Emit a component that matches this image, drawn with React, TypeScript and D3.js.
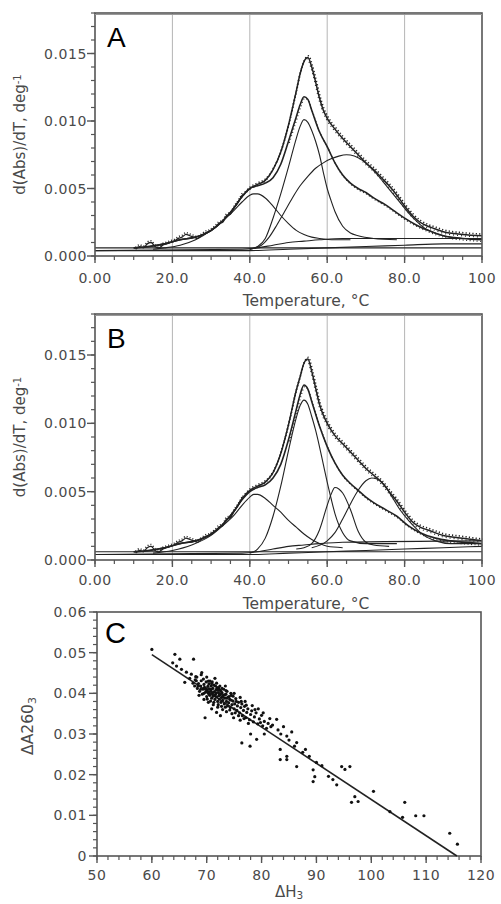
import React from 'react';
import * as d3 from 'd3';

type P = [number, number];

// ---------- shared axis data ----------
const tempTicks = [0, 20, 40, 60, 80, 100];
const tempTickLabels = ['0.00', '20.0', '40.0', '60.0', '80.0', '100'];
const dervTicks = [0, 0.005, 0.01, 0.015];
const dervTickLabels = ['0.000', '0.005', '0.010', '0.015'];
const gridTemps = [20, 40, 60, 80];

// ---------- panel A ----------
const aUpperFit: P[] = [[10,0.0006],[14,0.0007],[18,0.0009],[22,0.0012],[26,0.0014],[30,0.0019],[33,0.0026],[36,0.0036],[38,0.0044],[40,0.0050],[42,0.0053],[44,0.0056],[46,0.0064],[48,0.0077],[50,0.0097],[52,0.0122],[53,0.0135],[54,0.0144],[55,0.0147],[56,0.0140],[57,0.0129],[58,0.0117],[59,0.0108],[60,0.0102],[62,0.0094],[64,0.0087],[66,0.0081],[68,0.0075],[70,0.0069],[72,0.0064],[74,0.0058],[76,0.0052],[78,0.0045],[80,0.0037],[82,0.0030],[84,0.0025],[86,0.0022],[88,0.0020],[90,0.0018],[95,0.0016],[100,0.0015]];
const aUpperNoise: P[] = [[10.5,0.0005],[11.5,0.0007],[12.5,0.0006],[13.5,0.0009],[14.5,0.0010],[15.5,0.0007],[16.5,0.0006],[17.5,0.0008],[18.5,0.0009],[19.5,0.0010],[20.5,0.0011],[21.5,0.0013],[22.5,0.0014],[23.5,0.0016],[24.5,0.0015],[25.5,0.0014],[26.5,0.0013],[27.5,0.0015],[28.5,0.0017],[29.5,0.0018],[31,0.0021],[32,0.0024],[33,0.0025],[34,0.0030],[35,0.0031],[36,0.0036],[37,0.0040],[38,0.0045]];
const aMid: P[] = [[10,0.0006],[14,0.0007],[18,0.0009],[22,0.0012],[26,0.0014],[30,0.0019],[33,0.0026],[36,0.0036],[38,0.0044],[40,0.0050],[42,0.0052],[44,0.0054],[46,0.0058],[48,0.0068],[50,0.0085],[52,0.0103],[53,0.0112],[54,0.0118],[55,0.0116],[56,0.0108],[58,0.0092],[60,0.0081],[62,0.0069],[64,0.0060],[66,0.0054],[68,0.0050],[70,0.0047],[72,0.0043],[75,0.0038],[78,0.0032],[80,0.0028],[83,0.0023],[86,0.0019],[90,0.0015],[95,0.0013],[100,0.0012]];
const aComp1: P[] = [[15,0.0005],[18,0.0006],[22,0.0008],[26,0.0012],[30,0.0019],[33,0.0026],[36,0.0034],[38,0.0040],[40,0.0045],[41,0.0046],[42,0.0046],[44,0.0043],[46,0.0037],[48,0.0030],[50,0.0024],[52,0.0019],[54,0.0016],[56,0.0014],[58,0.0013],[62,0.0012],[66,0.0012]];
const aComp2: P[] = [[40,0.0005],[42,0.0007],[44,0.0013],[46,0.0028],[48,0.0046],[50,0.0066],[52,0.0087],[53,0.0096],[54,0.0101],[55,0.0099],[56,0.0093],[57,0.0085],[58,0.0075],[59,0.0062],[60,0.0050],[61,0.0041],[62,0.0033],[64,0.0022],[66,0.0017],[68,0.0015],[72,0.0013],[78,0.0012]];
const aComp3: P[] = [[40,0.0005],[43,0.0008],[45,0.0014],[47,0.0023],[49,0.0033],[51,0.0043],[53,0.0052],[55,0.0059],[57,0.0065],[59,0.0069],[61,0.0072],[63,0.0074],[65,0.0075],[67,0.0074],[69,0.0071],[71,0.0066],[73,0.0060],[75,0.0053],[77,0.0046],[79,0.0039],[81,0.0032],[83,0.0026],[85,0.0021],[87,0.0018],[90,0.0015],[95,0.0013],[100,0.0013]];
const aBase1: P[] = [[0,0.0006],[100,0.0006]];
const aBase2: P[] = [[0,0.0004],[40,0.0004],[50,0.0005],[60,0.0006],[70,0.0007],[80,0.0008],[90,0.0009],[100,0.0009]];
const aBase3: P[] = [[0,0.0004],[38,0.0005],[42,0.0006],[46,0.0008],[50,0.0010],[54,0.0011],[58,0.0012],[64,0.0013],[100,0.0013]];

// ---------- panel B ----------
const bUpperFit: P[] = [[10,0.0006],[14,0.0007],[18,0.0009],[22,0.0012],[26,0.0014],[30,0.0019],[33,0.0026],[36,0.0036],[38,0.0045],[40,0.0051],[42,0.0054],[44,0.0057],[46,0.0064],[48,0.0078],[50,0.0099],[52,0.0124],[53,0.0134],[54,0.0144],[55,0.0147],[56,0.0138],[57,0.0126],[58,0.0114],[59,0.0106],[60,0.0100],[62,0.0091],[64,0.0085],[66,0.0079],[68,0.0073],[70,0.0067],[72,0.0062],[74,0.0057],[76,0.0050],[78,0.0043],[80,0.0035],[82,0.0028],[84,0.0024],[86,0.0022],[90,0.0018],[95,0.0016],[100,0.0014]];
const bUpperNoise: P[] = [[10.5,0.0005],[11.5,0.0007],[12.5,0.0006],[13.5,0.0009],[14.5,0.0010],[15.5,0.0007],[16.5,0.0006],[17.5,0.0008],[18.5,0.0009],[19.5,0.0010],[20.5,0.0011],[21.5,0.0013],[22.5,0.0014],[23.5,0.0016],[24.5,0.0015],[25.5,0.0014],[26.5,0.0013],[27.5,0.0015],[28.5,0.0017],[29.5,0.0018],[31,0.0021],[32,0.0024],[33,0.0025],[34,0.0030],[35,0.0031],[36,0.0036],[37,0.0040],[38,0.0045]];
const bMid: P[] = [[10,0.0006],[14,0.0007],[18,0.0009],[22,0.0012],[26,0.0014],[30,0.0019],[33,0.0026],[36,0.0036],[38,0.0044],[40,0.0050],[42,0.0053],[44,0.0055],[46,0.0060],[48,0.0070],[50,0.0088],[52,0.0110],[53,0.0121],[54,0.0128],[55,0.0125],[56,0.0116],[58,0.0098],[60,0.0083],[62,0.0071],[64,0.0062],[66,0.0056],[68,0.0051],[70,0.0046],[72,0.0042],[75,0.0037],[78,0.0032],[81,0.0025],[84,0.0020],[88,0.0016],[92,0.0014],[100,0.0012]];
const bComp1: P[] = [[15,0.0005],[20,0.0007],[25,0.0011],[30,0.0018],[33,0.0025],[36,0.0033],[38,0.0040],[40,0.0046],[41,0.0048],[42,0.0048],[44,0.0045],[46,0.0040],[48,0.0035],[50,0.0029],[52,0.0024],[54,0.0019],[56,0.0015],[58,0.0012],[60,0.0010],[64,0.0009]];
const bComp2: P[] = [[40,0.0005],[42,0.0008],[44,0.0016],[46,0.0032],[48,0.0054],[50,0.0080],[52,0.0104],[53,0.0113],[54,0.0117],[55,0.0114],[56,0.0105],[57,0.0095],[58,0.0083],[59,0.0070],[60,0.0057],[61,0.0045],[62,0.0034],[64,0.0020],[66,0.0014],[70,0.0012],[78,0.0012]];
const bComp3: P[] = [[52,0.0008],[54,0.0009],[56,0.0012],[58,0.0022],[60,0.0040],[61,0.0048],[62,0.0053],[63,0.0052],[64,0.0049],[66,0.0037],[68,0.0021],[70,0.0013],[72,0.0011],[76,0.0010]];
const bComp4: P[] = [[56,0.0009],[60,0.0014],[62,0.0020],[64,0.0030],[66,0.0041],[68,0.0051],[70,0.0058],[71.5,0.0060],[73,0.0059],[75,0.0054],[77,0.0045],[79,0.0036],[81,0.0029],[83,0.0023],[85,0.0018],[88,0.0014],[92,0.0012],[100,0.0012]];
const bBase1: P[] = [[0,0.0006],[100,0.0006]];
const bBase2: P[] = [[0,0.0004],[40,0.0004],[50,0.0005],[60,0.0006],[70,0.0007],[80,0.0008],[90,0.0009],[100,0.0010]];
const bBase3: P[] = [[0,0.0004],[38,0.0005],[42,0.0006],[46,0.0008],[50,0.0010],[54,0.0011],[58,0.0012],[64,0.0013],[100,0.0014]];

// ---------- panel C ----------
const cXTicks = [50, 60, 70, 80, 90, 100, 110, 120];
const cYTicks = [0, 0.01, 0.02, 0.03, 0.04, 0.05, 0.06];
const cYTickLabels = ['0', '0.01', '0.02', '0.03', '0.04', '0.05', '0.06'];
const cFitX = [60, 115.6];
const cFitY = [0.0495, 0];
const cPoints: P[] = [
  [60.0,0.0508],[64.2,0.0496],[65.1,0.0484],[67.6,0.0484],[64.5,0.0467],[65.4,0.0459],[63.8,0.0475],[66.0,0.0427],[66.9,0.0437],[69.1,0.0451],[71.5,0.0437],[67.2,0.0447],[66.3,0.0452],[68.0,0.0441],
  [67.5,0.0425],[67.8,0.0418],[68.1,0.0431],[68.3,0.0412],[68.5,0.0424],[68.7,0.0405],[68.9,0.0418],[69.0,0.0431],[69.2,0.0398],[69.3,0.0410],[69.5,0.0422],[69.6,0.0415],[69.8,0.0403],[69.9,0.0428],[70.0,0.0392],[70.1,0.0409],[70.2,0.0417],[70.3,0.0400],[70.4,0.0423],[70.5,0.0411],[70.6,0.0395],[70.7,0.0405],[70.8,0.0418],[70.9,0.0388],[71.0,0.0400],[71.1,0.0412],[71.2,0.0393],[71.3,0.0420],[71.4,0.0404],[71.5,0.0385],[71.6,0.0397],[71.7,0.0409],[71.8,0.0391],[71.9,0.0414],[72.0,0.0380],[72.1,0.0402],[72.2,0.0394],[72.3,0.0386],[72.4,0.0408],[72.5,0.0397],[72.6,0.0378],[72.7,0.0390],[72.8,0.0401],[72.9,0.0383],[73.0,0.0395],[73.2,0.0374],[73.3,0.0388],[73.5,0.0398],[73.6,0.0380],[73.8,0.0369],[73.9,0.0391],[74.0,0.0377],[74.2,0.0385],[74.3,0.0365],[74.5,0.0395],[74.6,0.0372],[74.8,0.0381],[75.0,0.0362],[75.1,0.0374],[75.3,0.0387],[75.5,0.0358],[75.6,0.0369],[75.8,0.0378],[76.0,0.0352],[76.2,0.0365],[76.4,0.0374],[76.5,0.0345],[76.7,0.0358],[76.9,0.0368],[77.1,0.0340],[77.3,0.0353],[77.5,0.0362],[77.8,0.0335],[78.0,0.0348],[78.2,0.0357],[78.5,0.0330],[78.7,0.0342],[79.0,0.0352],[79.3,0.0325],[79.6,0.0337],[80.0,0.0346],[80.2,0.0320],[80.5,0.0331],[80.9,0.0314],[81.2,0.0326],[81.5,0.0338],
  [69.4,0.0435],[70.0,0.0440],[70.6,0.0430],[71.0,0.0428],[71.8,0.0425],[72.4,0.0418],[73.1,0.0410],[73.7,0.0405],[74.4,0.0400],[68.6,0.0395],[69.5,0.0385],[70.3,0.0378],[71.2,0.0372],[72.0,0.0366],[72.9,0.0360],[73.6,0.0355],[74.6,0.0350],[70.9,0.0362],[71.8,0.0353],[75.8,0.0345],[76.8,0.0338],[73.4,0.0418],[75.0,0.0400],[76.1,0.0390],[77.0,0.0380],[78.3,0.0370],[79.4,0.0362],[68.2,0.0440],[69.0,0.0446],[74.9,0.0340],[72.5,0.0345],
  [69.8,0.0412],[70.2,0.0404],[70.5,0.0397],[70.8,0.0409],[71.1,0.0402],[71.4,0.0395],[71.7,0.0401],[72.0,0.0408],[72.3,0.0399],[72.6,0.0405],[72.9,0.0391],[73.3,0.0396],[73.7,0.0388],[74.1,0.0392],[74.5,0.0383],[69.5,0.0400],[70.1,0.0386],[70.7,0.0381],[71.3,0.0378],[72.1,0.0372],[72.7,0.0368],[73.4,0.0366],[74.2,0.0359],[75.2,0.0352],[68.9,0.0410],[68.4,0.0418],[67.9,0.0433],[70.3,0.0430],[70.9,0.0424],[71.6,0.0418],[72.2,0.0414],[72.8,0.0412],[73.5,0.0407],[74.8,0.0393],[75.4,0.0380],[76.3,0.0380],[77.2,0.0371],[78.8,0.0360],[80.3,0.0352],[79.8,0.0328],[81.7,0.0318],[77.6,0.0326],[76.1,0.0334],
  [69.7,0.0340],[76.4,0.0278],[77.9,0.0270],[79.1,0.0287],[78.0,0.0300],[80.5,0.0300],
  [82.75,0.0336],[82.0,0.0322],[83.0,0.0310],[83.5,0.0300],[84.0,0.0318],[84.6,0.0295],[85.0,0.0285],[85.5,0.0305],[86.4,0.0279],[86.0,0.0270],[83.4,0.0262],[84.6,0.0245],[88.7,0.0245],[86.4,0.0220],[83.4,0.0237],[84.6,0.0237],[87.5,0.0255],[88.0,0.0262],[89.4,0.0212],[89.4,0.0183],[89.7,0.0195],[90.0,0.0230],[91.0,0.0222],[92.2,0.0196],[93.7,0.0175],[94.6,0.0220],[96.1,0.0220],[95.2,0.0213],[93.0,0.0188],[100.4,0.0159],[97.0,0.0146],[96.4,0.0132],[97.6,0.0134],[103.4,0.0109],[106.1,0.0132],[105.7,0.0095],[108.1,0.0099],[109.6,0.0099],[114.3,0.0056],[115.7,0.0029]
];

const FONT = "'DejaVu Sans', Verdana, sans-serif";
const TXT = '#4a4a4a';
const AX = '#555';
const INK = '#222';

interface DerivProps {
  top: number; bottom: number; letter: string;
  upperFit: P[]; upperNoise: P[]; mid: P[]; comps: P[][]; bases: P[][];
  tickLabelY: number; titleY: number;
}

function DerivPanel(p: DerivProps) {
  const x = d3.scaleLinear().domain([0, 100]).range([95, 482]);
  const y = d3.scaleLinear().domain([0, 0.018]).range([p.bottom, p.top]);
  const ln = d3.line<P>().x(d => x(d[0])).y(d => y(d[1])).curve(d3.curveMonotoneX);
  const minorY = d3.range(19).map(i => i * 0.001);
  const minorX = d3.range(21).map(i => i * 5);
  const cy = (p.top + p.bottom) / 2;
  return (
    <g>
      {gridTemps.map(t => (
        <line key={'g' + t} x1={x(t)} x2={x(t)} y1={p.top} y2={p.bottom} stroke="#b5b5b5" strokeWidth={1} />
      ))}
      {p.bases.map((b, i) => <path key={'b' + i} d={ln(b) || ''} fill="none" stroke={INK} strokeWidth={1.1} />)}
      {p.comps.map((c, i) => <path key={'c' + i} d={ln(c) || ''} fill="none" stroke={INK} strokeWidth={1.1} />)}
      <path d={ln(p.mid) || ''} fill="none" stroke={INK} strokeWidth={1.6} />
      <path d={ln(p.mid.filter(d => d[0] > 48)) || ''} fill="none" stroke={INK} strokeWidth={1.2} strokeDasharray="1 2.5" transform="translate(0.8,1.6)" />
      <path d={ln(p.upperFit) || ''} fill="none" stroke={INK} strokeWidth={1.5} />
      <path d={ln(p.upperFit.filter(d => d[0] > 36)) || ''} fill="none" stroke={INK} strokeWidth={1.6} strokeDasharray="1.2 2.2" transform="translate(0.6,-1.7)" />
      <path d={ln(p.upperFit.filter(d => d[0] > 36)) || ''} fill="none" stroke={INK} strokeWidth={1.2} strokeDasharray="1 3" transform="translate(-0.6,1.4)" />
      <path d={ln(p.upperNoise) || ''} fill="none" stroke={INK} strokeWidth={1.3} />
      <path d={ln(p.upperNoise) || ''} fill="none" stroke={INK} strokeWidth={1.5} strokeDasharray="1 2" transform="translate(0,-1.8)" />
      {/* frame */}
      <rect x={x(0)} y={p.top} width={x(100) - x(0)} height={p.bottom - p.top} fill="none" stroke={AX} strokeWidth={1.6} />
      <line x1={x(0)} x2={x(100)} y1={p.top + 1.5} y2={p.top + 1.5} stroke="#999" strokeWidth={1} />
      {/* y ticks */}
      {minorY.map((v, i) => (
        <line key={'my' + i} x1={x(0) - 4} x2={x(0)} y1={y(v)} y2={y(v)} stroke={AX} strokeWidth={1.2} />
      ))}
      {dervTicks.map((v, i) => (
        <g key={'ty' + i}>
          <line x1={x(0) - 8} x2={x(0)} y1={y(v)} y2={y(v)} stroke={AX} strokeWidth={1.4} />
          <text x={x(0) - 8} y={y(v)} dy="0.36em" textAnchor="end" fontFamily={FONT} fontSize={14} letterSpacing={0.6} fill={TXT}>{dervTickLabels[i]}</text>
        </g>
      ))}
      {/* x ticks */}
      {minorX.map((t, i) => (
        <line key={'mx' + i} x1={x(t)} x2={x(t)} y1={p.bottom} y2={p.bottom + 4} stroke={AX} strokeWidth={1.2} />
      ))}
      {tempTicks.map((t, i) => (
        <g key={'tx' + i}>
          <line x1={x(t)} x2={x(t)} y1={p.bottom} y2={p.bottom + 7} stroke={AX} strokeWidth={1.4} />
          <text x={x(t)} y={p.tickLabelY} dy="0.36em" textAnchor="middle" fontFamily={FONT} fontSize={14} letterSpacing={0.5} fill={TXT}>{tempTickLabels[i]}</text>
        </g>
      ))}
      <text x={306} y={p.titleY} dy="0.36em" textAnchor="middle" fontFamily={FONT} fontSize={15.5} fill={TXT}>Temperature, °C</text>
      <text transform={`translate(20,${cy}) rotate(-90)`} dy="0.36em" textAnchor="middle" fontFamily={FONT} fontSize={15} fill={TXT}>
        d(Abs)/dT, deg<tspan dy="-0.45em" fontSize={10}>-1</tspan>
      </text>
      <text x={107} y={p.top + 34} fontFamily="'Liberation Sans', Arial, sans-serif" fontSize={28} fill="#000">{p.letter}</text>
    </g>
  );
}

function ScatterPanel() {
  const top = 612, bottom = 856;
  const x = d3.scaleLinear().domain([50, 120]).range([97, 481]);
  const y = d3.scaleLinear().domain([0, 0.06]).range([bottom, top]);
  const fit = d3.line<number>().x(d => x(d)).y((_, i) => y(cFitY[i]));
  const minorY = d3.range(31).map(i => i * 0.002);
  const minorX = d3.range(36).map(i => 50 + i * 2);
  return (
    <g>
      <rect x={x(50)} y={top} width={x(120) - x(50)} height={bottom - top} fill="none" stroke={AX} strokeWidth={1.6} />
      {minorY.map((v, i) => (
        <line key={'my' + i} x1={x(50) - 4} x2={x(50)} y1={y(v)} y2={y(v)} stroke={AX} strokeWidth={1.2} />
      ))}
      {cYTicks.map((v, i) => (
        <g key={'ty' + i}>
          <line x1={x(50) - 8} x2={x(50)} y1={y(v)} y2={y(v)} stroke={AX} strokeWidth={1.4} />
          <text x={x(50) - 10} y={y(v)} dy="0.36em" textAnchor="end" fontFamily={FONT} fontSize={14} letterSpacing={0.6} fill={TXT}>{cYTickLabels[i]}</text>
        </g>
      ))}
      {minorX.map((t, i) => (
        <line key={'mx' + i} x1={x(t)} x2={x(t)} y1={bottom} y2={bottom + 4} stroke={AX} strokeWidth={1.2} />
      ))}
      {cXTicks.map((t, i) => (
        <g key={'tx' + i}>
          <line x1={x(t)} x2={x(t)} y1={bottom} y2={bottom + 7} stroke={AX} strokeWidth={1.4} />
          <text x={x(t)} y={875} dy="0.36em" textAnchor="middle" fontFamily={FONT} fontSize={14} letterSpacing={0.5} fill={TXT}>{String(t)}</text>
        </g>
      ))}
      <path d={fit(cFitX) || ''} fill="none" stroke={INK} strokeWidth={1.6} />
      {cPoints.map((d, i) => (
        <circle key={'p' + i} cx={x(d[0])} cy={y(d[1])} r={1.6} fill="#111" />
      ))}
      <text x={289} y={892} dy="0.3em" textAnchor="middle" fontFamily={FONT} fontSize={15} fill={TXT}>
        ΔH<tspan dy="0.25em" fontSize={10.5}>3</tspan>
      </text>
      <text transform={`translate(27,726) rotate(-90)`} dy="0.36em" textAnchor="middle" fontFamily={FONT} fontSize={15.5} fill={TXT}>
        ΔA260<tspan dy="0.3em" fontSize={11}>3</tspan>
      </text>
      <text x={105} y={643} fontFamily="'Liberation Sans', Arial, sans-serif" fontSize={29} fill="#000">C</text>
    </g>
  );
}

export default function App() {
  return (
    <svg width={501} height={904} style={{ position: 'absolute', left: 0, top: 0, background: '#fff' }}>
      <rect width={501} height={904} fill="#fff" />
      <DerivPanel top={13} bottom={256} letter="A" upperFit={aUpperFit} upperNoise={aUpperNoise} mid={aMid}
        comps={[aComp1, aComp2, aComp3]} bases={[aBase1, aBase2, aBase3]} tickLabelY={278} titleY={300} />
      <DerivPanel top={314} bottom={560} letter="B" upperFit={bUpperFit} upperNoise={bUpperNoise} mid={bMid}
        comps={[bComp1, bComp2, bComp3, bComp4]} bases={[bBase1, bBase2, bBase3]} tickLabelY={580} titleY={603} />
      <ScatterPanel />
    </svg>
  );
}
